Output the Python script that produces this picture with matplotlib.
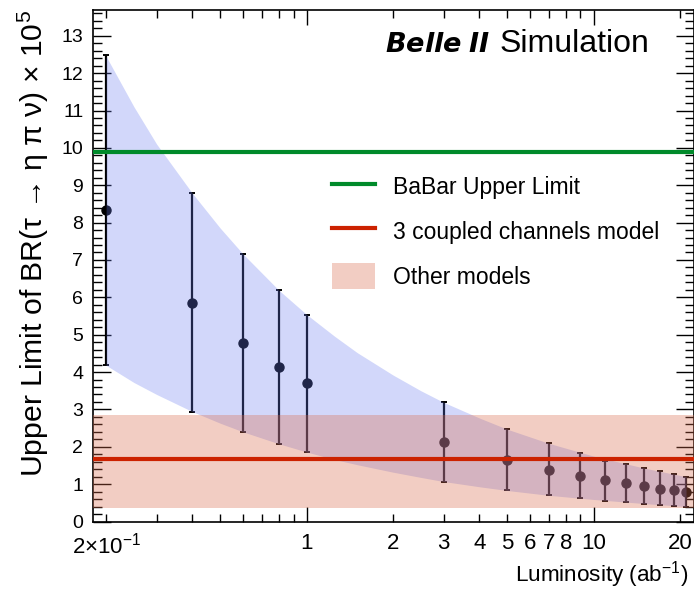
import matplotlib
matplotlib.use("Agg")
import matplotlib.pyplot as plt
from matplotlib.ticker import FixedLocator, FixedFormatter, NullFormatter
from matplotlib.lines import Line2D
from matplotlib.patches import Patch

plt.rcParams['font.family'] = ['Liberation Sans', 'DejaVu Sans']
plt.rcParams['mathtext.fontset'] = 'custom'
plt.rcParams['mathtext.rm'] = 'Liberation Sans'
plt.rcParams['mathtext.it'] = 'Liberation Sans:italic'
plt.rcParams['mathtext.bf'] = 'Liberation Sans:bold'

# ---- data ----
lumi = [0.2, 0.4, 0.6, 0.8, 1, 3, 5, 7, 9, 11, 13, 15, 17, 19, 21]
ul_central = [8.33, 5.86, 4.77, 4.14, 3.70, 2.12, 1.64, 1.39, 1.22, 1.11, 1.02, 0.95, 0.88, 0.85, 0.80]
ul_high = [12.48, 8.78, 7.16, 6.19, 5.54, 3.19, 2.47, 2.09, 1.84, 1.62, 1.53, 1.42, 1.34, 1.26, 1.20]
ul_low = [4.18, 2.94, 2.40, 2.08, 1.86, 1.07, 0.83, 0.70, 0.62, 0.56, 0.51, 0.47, 0.44, 0.42, 0.39]

band_x = [0.2, 0.25, 0.3, 0.4, 0.5, 0.6, 0.8, 1, 1.25, 1.5, 2, 2.5, 3, 4, 5, 7, 10, 15, 21]
band_hi = [12.45, 11.1, 10.1, 8.78, 7.85, 7.16, 6.19, 5.54, 4.96, 4.52, 3.92, 3.50, 3.19, 2.77, 2.47, 2.09, 1.75, 1.43, 1.20]
band_lo = [4.18, 3.72, 3.40, 2.94, 2.63, 2.40, 2.08, 1.86, 1.66, 1.52, 1.32, 1.18, 1.07, 0.93, 0.83, 0.70, 0.59, 0.48, 0.40]

babar_limit = 9.9
coupled_model = 1.68
other_lo, other_hi = 0.36, 2.85

x_major = [1, 10]
x_minor = [0.2, 0.3, 0.4, 0.5, 0.6, 0.7, 0.8, 0.9, 2, 3, 4, 5, 6, 7, 8, 9, 20]
x_minor_labels = [r'2$\times$10$^{-1}$', '', '', '', '', '', '', '', '2', '3', '4', '5', '6', '7', '8', '', '20']
x_major_labels = ['1', '10']
y_major = list(range(0, 14))

legend_labels = ['BaBar Upper Limit', '3 coupled channels model', 'Other models']

# ---- figure ----
fig = plt.figure(figsize=(6.94, 5.91), dpi=100)
ax = fig.add_axes([93/694, 1-521.5/591, 1-93/694-0.5/694, (521.5-10)/591])

ax.set_xscale('log')
ax.set_xlim(0.18, 22.3)
ax.set_ylim(0, 13.69)

ax.errorbar(lumi, ul_central,
            yerr=[[c - l for c, l in zip(ul_central, ul_low)],
                  [h - c for c, h in zip(ul_central, ul_high)]],
            fmt='o', color='black', markersize=6.5, elinewidth=1.6,
            capsize=2.5, capthick=1.4, zorder=2)

blue = '#6a7cf0'
pink = '#d96a4a'
ax.fill_between(band_x, band_lo, band_hi, color=blue, alpha=0.3, lw=0, zorder=3)
ax.axhspan(other_lo, other_hi, color=pink, alpha=0.33, lw=0, zorder=3)
ax.axhline(babar_limit, color='#008a2a', lw=3, zorder=4)
ax.axhline(coupled_model, color='#cc2200', lw=3, zorder=4)

# ticks
ax.xaxis.set_major_locator(FixedLocator(x_major))
ax.xaxis.set_major_formatter(FixedFormatter(x_major_labels))
ax.xaxis.set_minor_locator(FixedLocator(x_minor))
ax.xaxis.set_minor_formatter(FixedFormatter(x_minor_labels))
ax.yaxis.set_major_locator(FixedLocator(y_major))
ax.yaxis.set_minor_locator(FixedLocator([i * 0.2 for i in range(0, 69)]))
ax.yaxis.set_minor_formatter(NullFormatter())

ax.tick_params(which='both', direction='in', top=True, right=True, width=1.0, colors='black')
ax.tick_params(axis='x', which='major', length=11, labelsize=16, pad=8)
ax.tick_params(axis='x', which='minor', length=5.5, labelsize=16, pad=8)
ax.tick_params(axis='y', which='major', length=13, labelsize=14, pad=7)
ax.tick_params(axis='y', which='minor', length=6.5)
for s in ax.spines.values():
    s.set_linewidth(1.2)

# labels
fig.text(33/694, 1-10/591, r'Upper Limit of BR(τ → η π ν) × 10$^{5}$',
         rotation=90, ha='center', va='top', fontsize=21.7)
fig.text(688/694, 1-582/591, r'Luminosity (ab$^{-1}$)', ha='right', va='baseline', fontsize=16.2)

fig.text(385/694, 1-52/591, r'$\mathbfit{Belle\ II}$',
         fontsize=19.5, ha='left', va='baseline')
fig.text(500/694, 1-52/591, 'Simulation', fontsize=23, ha='left', va='baseline')

handles = [Line2D([], [], color='#008a2a', lw=3),
           Line2D([], [], color='#cc2200', lw=3),
           Patch(facecolor=pink, alpha=0.33, lw=0)]
leg = ax.legend(handles, legend_labels, loc='upper left',
                bbox_to_anchor=(332/694, 1-173/591), bbox_transform=fig.transFigure,
                frameon=False, fontsize=16.5, handlelength=1.87, handleheight=1.43,
                labelspacing=0.78, handletextpad=0.78, borderpad=0.0, borderaxespad=0.0)

fig.savefig('out.png', dpi=100)
